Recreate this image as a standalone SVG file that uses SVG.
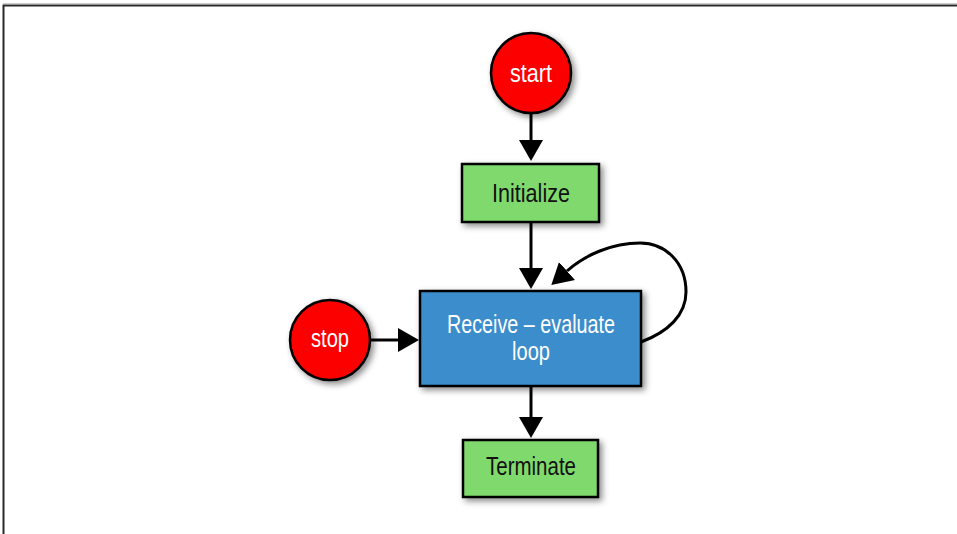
<svg xmlns="http://www.w3.org/2000/svg" width="957" height="534" viewBox="0 0 957 534">
<defs>
<filter id="sh" x="-20%" y="-20%" width="150%" height="150%">
<feDropShadow dx="3" dy="3" stdDeviation="3" flood-color="#000" flood-opacity="0.45"/>
</filter>
<marker id="ah" markerUnits="userSpaceOnUse" markerWidth="22" markerHeight="26" refX="0" refY="12" orient="auto" viewBox="0 0 22 24">
<path d="M0,0 L21,12 L0,24 z" fill="#000"/>
</marker>
<style>
.circ{fill:#fc0000;stroke:#000;stroke-width:2.5;filter:url(#sh)}
.gbox{fill:#80d96c;stroke:#000;stroke-width:2.5;filter:url(#sh)}
.bbox{fill:#3a8dcc;stroke:#000;stroke-width:2.5;filter:url(#sh)}
.lbl{font-family:"Liberation Sans",Arial,sans-serif;font-size:25px;text-anchor:middle}
.w{fill:#fff}
.k{fill:#111}
.edge{fill:none;stroke:#000;stroke-width:3;marker-end:url(#ah)}
</style>
</defs>
<rect width="957" height="534" fill="#fff"/>
<path d="M3,3.5 H957" stroke="#ccc" stroke-width="1"/>
<path d="M3.5,534 V5.5 H957" fill="none" stroke="#2a2a2a" stroke-width="2"/>
<g id="connectors">
<path class="edge" d="M531,113 V140"/>
<path class="edge" d="M531,222 V268"/>
<path class="edge" d="M370,340 H398"/>
<path class="edge" d="M531,386 V417"/>
<path class="edge" d="M641,342 C668,332 686,315 686,292 C686,262 665,243 640,243 C612,243 585,255 567,271"/>
</g>
<g id="start">
<circle class="circ" cx="531" cy="73" r="40"/>
<text class="lbl w" x="531" y="82" textLength="42" lengthAdjust="spacingAndGlyphs">start</text>
</g>
<g id="initialize">
<rect class="gbox" x="462" y="164" width="137" height="58"/>
<text class="lbl k" x="531" y="202" textLength="78" lengthAdjust="spacingAndGlyphs">Initialize</text>
</g>
<g id="receive">
<rect class="bbox" x="420" y="291" width="221" height="95"/>
<text class="lbl w" x="531" y="333" textLength="168" lengthAdjust="spacingAndGlyphs">Receive – evaluate</text>
<text class="lbl w" x="531" y="360" textLength="38" lengthAdjust="spacingAndGlyphs">loop</text>
</g>
<g id="stop">
<circle class="circ" cx="330" cy="340" r="40"/>
<text class="lbl w" x="330" y="347" textLength="38" lengthAdjust="spacingAndGlyphs">stop</text>
</g>
<g id="terminate">
<rect class="gbox" x="463" y="440" width="135" height="57"/>
<text class="lbl k" x="531" y="475" textLength="90" lengthAdjust="spacingAndGlyphs">Terminate</text>
</g>
</svg>
